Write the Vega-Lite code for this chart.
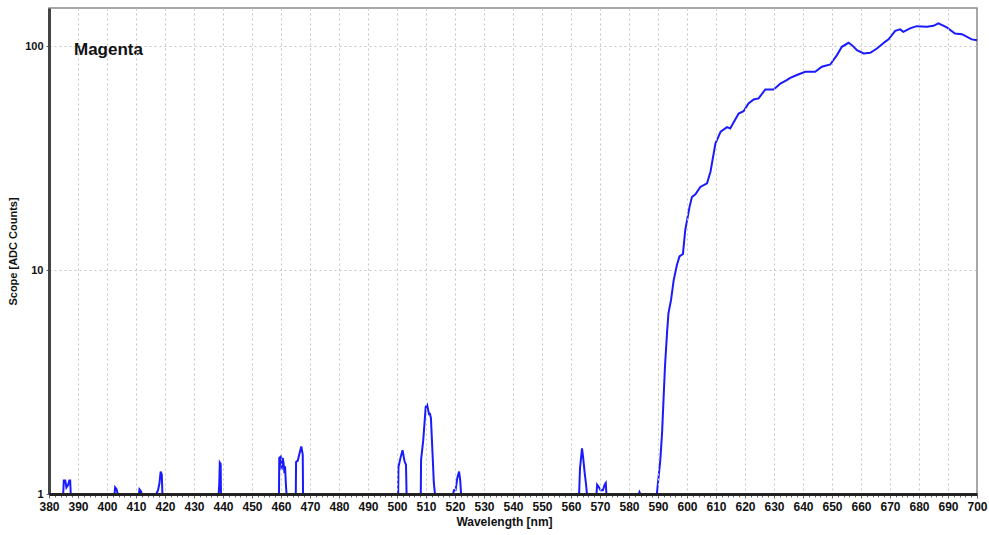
{
  "$schema": "https://vega.github.io/schema/vega-lite/v6.json",
  "autosize": {"type": "none"},
  "width": 928,
  "height": 486,
  "padding": {"left": 49, "top": 8, "right": 12, "bottom": 41},
  "background": "white",
  "config": {"font": "Liberation Sans", "view": {"stroke": "#8a8a8a", "strokeWidth": 1.5}},
  "title": {"text": "Magenta", "anchor": "start", "frame": "group", "orient": "top", "offset": 0, "baseline": "alphabetic", "dx": 25, "dy": 64, "fontSize": 17, "fontWeight": "bold", "color": "#111", "font": "Liberation Sans"},
  "data": {"values": [
    {"nm":380,"counts":1},
    {"nm":384.9,"counts":1},{"nm":385.1,"counts":1.15},{"nm":385.6,"counts":1.15},{"nm":386,"counts":1.07},{"nm":386.6,"counts":1.1},{"nm":387,"counts":1.15},{"nm":387.3,"counts":1.15},{"nm":387.5,"counts":1},
    {"nm":402.6,"counts":1},{"nm":402.8,"counts":1.07},{"nm":403.3,"counts":1.05},{"nm":403.7,"counts":1},
    {"nm":411,"counts":1},{"nm":411.2,"counts":1.05},{"nm":411.7,"counts":1.03},{"nm":412,"counts":1},
    {"nm":417,"counts":1},{"nm":417.6,"counts":1.04},{"nm":418.1,"counts":1.12},{"nm":418.5,"counts":1.26},{"nm":418.9,"counts":1.22},{"nm":419.1,"counts":1},
    {"nm":438.5,"counts":1},{"nm":438.7,"counts":1.1},{"nm":438.9,"counts":1.38},{"nm":439.2,"counts":1.36},{"nm":439.3,"counts":1},
    {"nm":459.3,"counts":1},{"nm":459.4,"counts":1.45},{"nm":459.9,"counts":1.47},{"nm":460.2,"counts":1.28},{"nm":460.6,"counts":1.45},{"nm":460.9,"counts":1.37},{"nm":461.2,"counts":1.24},{"nm":461.4,"counts":1.33},{"nm":461.7,"counts":1.1},{"nm":461.9,"counts":1},
    {"nm":465.1,"counts":1},{"nm":465.2,"counts":1.39},{"nm":465.8,"counts":1.41},{"nm":466.4,"counts":1.52},{"nm":467,"counts":1.63},{"nm":467.5,"counts":1.5},{"nm":467.6,"counts":1},
    {"nm":500.4,"counts":1},{"nm":500.5,"counts":1.32},{"nm":501.2,"counts":1.45},{"nm":501.9,"counts":1.57},{"nm":502.6,"counts":1.4},{"nm":503.1,"counts":1.35},{"nm":503.3,"counts":1},
    {"nm":508.2,"counts":1},{"nm":508.3,"counts":1.42},{"nm":509.05,"counts":1.74},{"nm":509.9,"counts":2.45},{"nm":510.4,"counts":2.5},{"nm":511.1,"counts":2.25},{"nm":511.3,"counts":2.3},{"nm":511.7,"counts":2.18},{"nm":512.3,"counts":1.47},{"nm":512.7,"counts":1.12},{"nm":513.1,"counts":1},
    {"nm":519.4,"counts":1},{"nm":519.6,"counts":1.04},{"nm":520.2,"counts":1.04},{"nm":520.8,"counts":1.18},{"nm":521.4,"counts":1.26},{"nm":521.8,"counts":1.15},{"nm":522.1,"counts":1},
    {"nm":562.8,"counts":1},{"nm":563.1,"counts":1.3},{"nm":563.8,"counts":1.6},{"nm":564.2,"counts":1.45},{"nm":564.7,"counts":1.25},{"nm":565.2,"counts":1.1},{"nm":565.5,"counts":1},
    {"nm":568.8,"counts":1},{"nm":569,"counts":1.1},{"nm":569.5,"counts":1.08},{"nm":570.2,"counts":1.04},{"nm":571,"counts":1.04},{"nm":571.6,"counts":1.1},{"nm":572,"counts":1.12},{"nm":572.2,"counts":1},
    {"nm":583.4,"counts":1},{"nm":583.6,"counts":1.02},{"nm":583.9,"counts":1},
    {"nm":589.6,"counts":1},{"nm":590.8,"counts":1.42},{"nm":591.4,"counts":1.87},{"nm":591.9,"counts":2.63},{"nm":592.4,"counts":3.7},{"nm":593.1,"counts":5.21},{"nm":593.6,"counts":6.41},{"nm":594.5,"counts":7.36},{"nm":595.4,"counts":9.0},{"nm":596.5,"counts":10.5},{"nm":597.4,"counts":11.5},{"nm":598.6,"counts":11.8},{"nm":599.4,"counts":15.1},{"nm":600.9,"counts":19.2},{"nm":601.7,"counts":21.2},{"nm":602.9,"counts":21.8},{"nm":604.6,"counts":23.5},{"nm":606.9,"counts":24.4},{"nm":608.1,"counts":27.5},{"nm":609.8,"counts":36.7},{"nm":611.6,"counts":41.5},{"nm":613.8,"counts":43.5},{"nm":614.9,"counts":42.9},{"nm":617.8,"counts":50.0},{"nm":619.5,"counts":51.2},{"nm":621.2,"counts":55.5},{"nm":623.0,"counts":57.8},{"nm":624.7,"counts":58.4},{"nm":627.0,"counts":64.1},{"nm":629.9,"counts":64.1},{"nm":632.2,"counts":68.1},{"nm":634.4,"counts":70.5},{"nm":635.6,"counts":72.2},{"nm":637.9,"counts":74.3},{"nm":640.8,"counts":76.8},{"nm":644.2,"counts":76.8},{"nm":646.5,"counts":80.9},{"nm":649.4,"counts":82.8},{"nm":651.7,"counts":91.2},{"nm":653.4,"counts":99.3},{"nm":655.7,"counts":103.5},{"nm":656.9,"counts":101.0},{"nm":658.6,"counts":96.0},{"nm":660.9,"counts":92.8},{"nm":663.2,"counts":93.4},{"nm":665.5,"counts":97.6},{"nm":668.3,"counts":104.5},{"nm":669.5,"counts":107.2},{"nm":671.8,"counts":117.0},{"nm":673.5,"counts":118.8},{"nm":674.6,"counts":115.8},{"nm":676.9,"counts":120.0},{"nm":679.2,"counts":122.8},{"nm":682.7,"counts":122.0},{"nm":685.0,"counts":123.2},{"nm":686.7,"counts":126.3},{"nm":689.6,"counts":121.2},{"nm":692.4,"counts":113.9},{"nm":694.8,"counts":113.1},{"nm":698.2,"counts":107.2},{"nm":700,"counts":106.3}
  ]},
  "mark": {"type": "line", "color": "#1a1aff", "strokeWidth": 2, "interpolate": "linear"},
  "encoding": {
    "x": {
      "field": "nm", "type": "quantitative",
      "scale": {"domain": [380, 700], "nice": false, "zero": false},
      "axis": {
        "values": [380,382,384,386,388,390,392,394,396,398,400,402,404,406,408,410,412,414,416,418,420,422,424,426,428,430,432,434,436,438,440,442,444,446,448,450,452,454,456,458,460,462,464,466,468,470,472,474,476,478,480,482,484,486,488,490,492,494,496,498,500,502,504,506,508,510,512,514,516,518,520,522,524,526,528,530,532,534,536,538,540,542,544,546,548,550,552,554,556,558,560,562,564,566,568,570,572,574,576,578,580,582,584,586,588,590,592,594,596,598,600,602,604,606,608,610,612,614,616,618,620,622,624,626,628,630,632,634,636,638,640,642,644,646,648,650,652,654,656,658,660,662,664,666,668,670,672,674,676,678,680,682,684,686,688,690,692,694,696,698,700],
        "format": "d",
        "labelExpr": "datum.value % 10 === 0 ? datum.label : ''",
        "labelOverlap": false,
        "labelFlush": false,
        "labelFontSize": 12,
        "labelFontWeight": "bold",
        "labelColor": "#111",
        "labelPadding": 3,
        "domain": true,
        "domainColor": "#222",
        "domainWidth": 3,
        "zindex": 1,
        "grid": true,
        "gridColor": "#c4c4c4",
        "gridDash": [2, 3],
        "gridWidth": 1,
        "gridOpacity": {"condition": {"test": "datum.value % 10 === 0 && datum.value > 380 && datum.value < 700", "value": 1}, "value": 0},
        "tickColor": "#666",
        "tickSize": {"condition": {"test": "datum.value % 10 === 0", "value": 4}, "value": 3},
        "title": "Wavelength [nm]",
        "titleFontSize": 12,
        "titleFontWeight": "bold",
        "titleColor": "#111",
        "titlePadding": 4,
        "titleX": 455
      }
    },
    "y": {
      "field": "counts", "type": "quantitative",
      "scale": {"type": "log", "domain": [1, 148], "nice": false},
      "axis": {
        "values": [1, 10, 100],
        "format": "d",
        "labelFontSize": 11,
        "labelFontWeight": "bold",
        "labelColor": "#111",
        "labelPadding": 3,
        "domain": true,
        "domainColor": "#444",
        "domainWidth": 3,
        "grid": true,
        "gridColor": "#c4c4c4",
        "gridDash": [2, 3],
        "gridWidth": 1,
        "tickSize": 3,
        "tickColor": "#666",
        "title": "Scope [ADC Counts]",
        "titleFontSize": 11,
        "titleFontWeight": "bold",
        "titleColor": "#111",
        "titlePadding": 6
      }
    }
  }
}
